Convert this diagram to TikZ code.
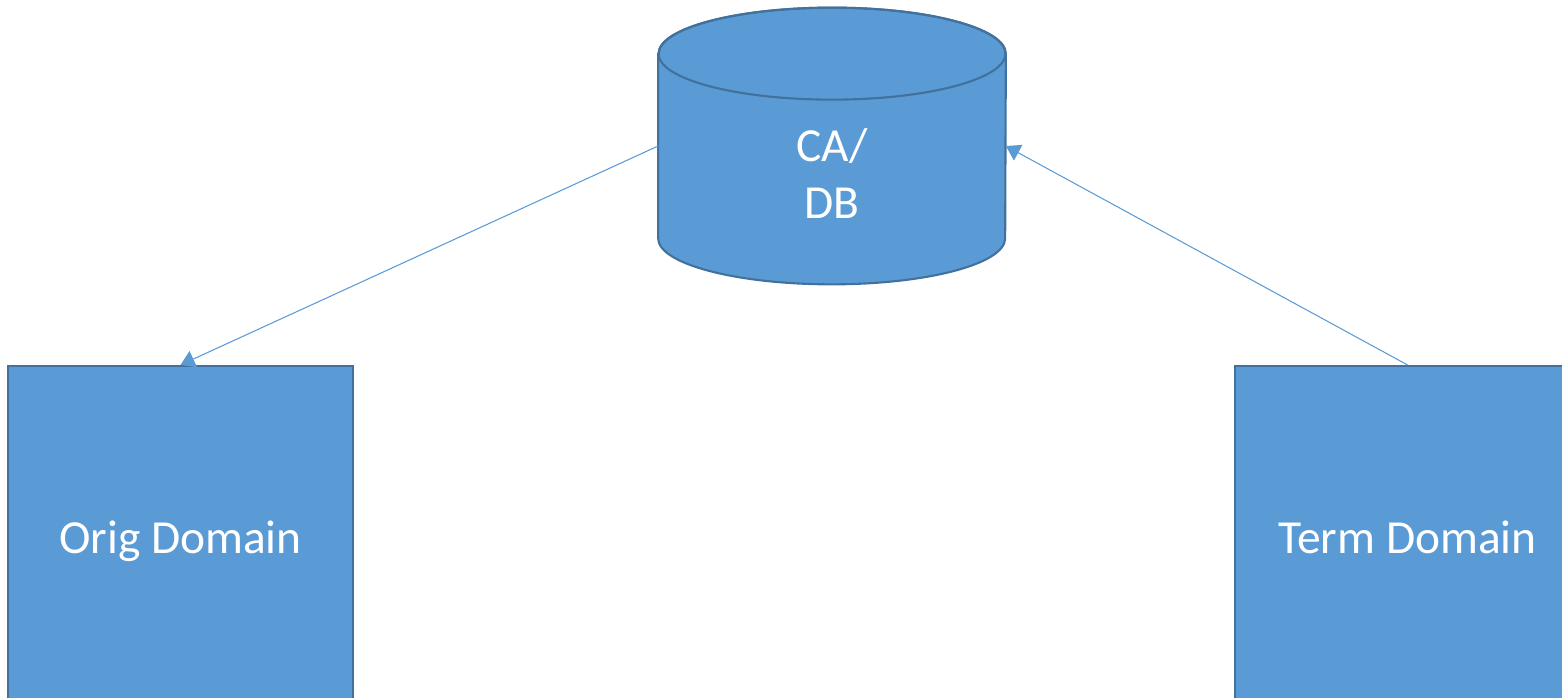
\documentclass[tikz,border=0pt]{standalone}
\usepackage{fontspec}
\setmainfont{Carlito}
\usetikzlibrary{arrows.meta}
\definecolor{boxfill}{HTML}{5B9BD5}
\definecolor{boxline}{HTML}{41719C}
\tikzset{
  domainbox/.style={draw=boxline,line width=1.2pt,fill=boxfill,text=white,
    minimum width=6.9cm,minimum height=6.84cm,text height=.8cm,text depth=.14cm,
    font=\fontsize{27}{32.5}\selectfont},
  dbshape/.style={minimum width=6.94cm,minimum height=5.52cm,inner sep=0pt},
  link/.style={draw=boxfill,line width=.6pt,-{Triangle[width=10pt,length=8pt]}}
}
\begin{document}
\begin{tikzpicture}
  \useasboundingbox (0,0) rectangle (31.24,13.94);
  \clip (0,0) rectangle (31.24,13.94);
  \path node[dbshape] (db) at (16.64,11.02) {}
     (db.north) +(0,-.92) coordinate (top) (db.south) +(0,.92) coordinate (bot);
  % cylinder
  \filldraw[draw=boxline,line width=1.2pt,fill=boxfill]
     (db.west |- top) -- (db.west |- bot) arc[start angle=180,end angle=360,x radius=3.47cm,y radius=.92cm]
     -- (db.east |- top) arc[start angle=0,end angle=180,x radius=3.47cm,y radius=.92cm] -- cycle;
  \draw[boxline,line width=1.2pt] (top) ellipse[x radius=3.47cm,y radius=.92cm];
  \node[text=white,align=center,font=\fontsize{27}{32.5}\selectfont] (dbtext) at ([yshift=-.55cm]db.center) {CA/\\DB};
  \path node[domainbox] (orig) at (3.61,3.2) {Orig Domain}
        node[domainbox] (term) at (28.15,3.2) {Term Domain};
  \draw[link] (db.west) to (orig.north);
  \draw[link] (term.north) to (db.east);
\end{tikzpicture}
\end{document}
